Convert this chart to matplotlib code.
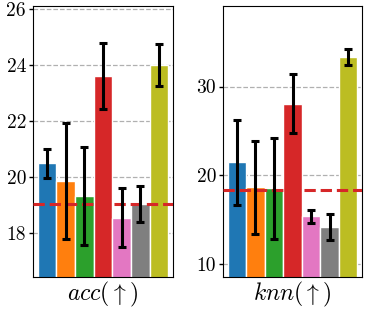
import numpy as np
import matplotlib.pyplot as plt

plt.rcParams['font.family'] = 'serif'
plt.rcParams['font.serif'] = ['cmr10']
plt.rcParams['mathtext.fontset'] = 'cm'
plt.rcParams['axes.formatter.use_mathtext'] = True

colors = ['tab:blue', 'tab:orange', 'tab:green', 'tab:red', 'tab:pink', 'tab:gray', 'tab:olive']

acc_mean = [20.48, 19.86, 19.32, 23.61, 18.55, 19.04, 24.00]
acc_err = [0.50, 2.07, 1.76, 1.18, 1.05, 0.63, 0.76]
acc_base = 19.04

knn_mean = [21.44, 18.60, 18.49, 28.07, 15.34, 14.09, 33.37]
knn_err = [4.83, 5.30, 5.72, 3.31, 0.76, 1.48, 0.90]
knn_base = 18.30

fig = plt.figure(figsize=(3.65, 3.12), dpi=100)
ax1 = fig.add_axes([33/365, 1-277/312, 140/365, 271/312])
ax2 = fig.add_axes([223/365, 1-277/312, 139/365, 271/312])

def panel(ax, mean, err, base, ylim, ticks, label):
    x = np.arange(len(mean))
    ax.bar(x, mean, width=1.0, color=colors, edgecolor='white', linewidth=1.0, zorder=2)
    ax.errorbar(x, mean, yerr=err, fmt='none', ecolor='black', elinewidth=2.2,
                capsize=3, capthick=2.2, zorder=4)
    ax.axhline(base, color='tab:red', linestyle='--', linewidth=2.2, zorder=3)
    ax.set_xlim(-0.75, 6.75)
    ax.set_ylim(*ylim)
    ax.set_yticks(ticks)
    ax.set_yticklabels([str(t) for t in ticks])
    ax.set_xticks([])
    ax.yaxis.grid(True, linestyle='--', color='#b0b0b0', linewidth=0.9, zorder=0)
    ax.set_axisbelow(True)
    ax.tick_params(axis='y', labelsize=14, length=3, width=1, pad=2)
    ax.set_xlabel(label, fontsize=17, labelpad=2)

panel(ax1, acc_mean, acc_err, acc_base, (16.43, 26.1), [18, 20, 22, 24, 26], r'$acc(\uparrow)$')
panel(ax2, knn_mean, knn_err, knn_base, (8.48, 39.1), [10, 20, 30], r'$knn(\uparrow)$')

plt.savefig('out.png', dpi=100)
